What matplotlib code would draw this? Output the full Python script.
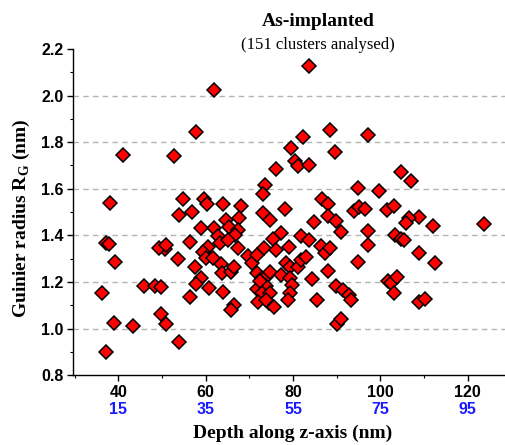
import matplotlib
matplotlib.use('Agg')
import numpy as np
from matplotlib import pyplot as plt
from matplotlib.ticker import MultipleLocator
import matplotlib.transforms as mtransforms

# depth (nm) and Guinier radius (nm)
depth = [83.7, 61.9, 57.9, 41.1, 52.7, 82.3, 88.4, 97.1, 79.5, 80.4,
         81.1, 83.7, 89.7, 76.2, 104.8, 107.0, 94.9, 99.6, 73.5, 73.1,
         38.1, 54.8, 59.6, 60.2, 56.8, 53.9, 64.0, 68.0, 67.6, 78.1,
         86.7, 87.9, 87.9, 89.9, 93.9, 95.2, 96.5, 101.5, 103.2, 108.9,
         106.6, 105.8, 112.0, 123.7, 97.1, 91.0, 84.8, 73.1, 74.8, 77.3,
         64.6, 65.4, 67.3, 66.7, 62.0, 62.8, 63.2, 65.1, 58.9, 60.6,
         59.4, 60.1, 61.7, 60.8, 56.5, 53.7, 50.7, 49.4, 51.0, 37.3,
         37.9, 39.3, 45.9, 48.4, 49.7, 36.2, 39.0, 43.4, 49.8, 51.0,
         53.9, 37.3, 57.5, 58.9, 57.9, 56.5, 63.6, 63.8, 64.0, 65.7,
         66.6, 66.6, 65.7, 67.4, 69.7, 70.5, 71.8, 73.4, 75.3, 76.1,
         71.7, 72.8, 73.9, 71.7, 73.9, 72.8, 74.8, 74.7, 72.0, 74.5,
         75.6, 73.9, 77.2, 78.3, 79.2, 79.1, 79.2, 79.8, 79.2, 78.9,
         81.1, 81.9, 82.9, 81.9, 83.7, 84.4, 85.5, 86.3, 87.2, 88.4,
         88.0, 89.9, 91.4, 92.8, 93.3, 90.1, 91.0, 94.9, 97.1, 103.4,
         104.6, 105.3, 108.9, 112.4, 101.7, 102.5, 103.8, 103.2, 108.9, 110.1,
         72.4]
rg = [2.125, 2.025, 1.843, 1.746, 1.739, 1.822, 1.852, 1.829, 1.774, 1.721,
      1.698, 1.704, 1.757, 1.684, 1.671, 1.634, 1.605, 1.591, 1.614, 1.578,
      1.539, 1.555, 1.557, 1.535, 1.502, 1.488, 1.534, 1.524, 1.474, 1.512,
      1.555, 1.535, 1.481, 1.462, 1.505, 1.521, 1.514, 1.509, 1.524, 1.478,
      1.474, 1.452, 1.442, 1.448, 1.419, 1.416, 1.456, 1.495, 1.466, 1.409,
      1.466, 1.436, 1.423, 1.402, 1.431, 1.399, 1.366, 1.378, 1.433, 1.352,
      1.330, 1.302, 1.302, 1.173, 1.373, 1.297, 1.340, 1.345, 1.360, 1.366,
      1.363, 1.284, 1.184, 1.184, 1.177, 1.154, 1.022, 1.012, 1.061, 1.018,
      0.943, 0.898, 1.266, 1.218, 1.191, 1.137, 1.276, 1.240, 1.158, 1.241,
      1.266, 1.101, 1.080, 1.345, 1.312, 1.280, 1.316, 1.345, 1.385, 1.335,
      1.237, 1.216, 1.223, 1.169, 1.183, 1.151, 1.151, 1.244, 1.115, 1.108,
      1.094, 1.122, 1.230, 1.280, 1.266, 1.352, 1.216, 1.187, 1.151, 1.122,
      1.266, 1.294, 1.309, 1.398, 1.380, 1.211, 1.122, 1.356, 1.323, 1.345,
      1.249, 1.184, 1.165, 1.144, 1.122, 1.019, 1.039, 1.287, 1.359, 1.402,
      1.383, 1.378, 1.326, 1.280, 1.204, 1.194, 1.223, 1.154, 1.115, 1.127,
      1.205]

xticks = [40, 60, 80, 100, 120]
xticks_shifted = ['15', '35', '55', '75', '95']

fig = plt.figure(figsize=(5.05, 4.45), dpi=100)
ax = fig.add_axes([0.145, 0.157, 0.855, 0.733])

ax.plot(depth, rg, linestyle='none', marker='D', markersize=7.2,
        markerfacecolor='#ff0000', markeredgecolor='black', markeredgewidth=1.1,
        zorder=3)

ax.set_xlim(29.7, 128.5)
ax.set_ylim(0.8, 2.2)
ax.set_xticks(xticks)
ax.xaxis.set_minor_locator(MultipleLocator(10))
ax.yaxis.set_major_locator(MultipleLocator(0.2))
ax.yaxis.set_minor_locator(MultipleLocator(0.1))
ax.yaxis.set_major_formatter(matplotlib.ticker.FormatStrFormatter('%.1f'))

for s in ['top', 'right']:
    ax.spines[s].set_visible(False)
for s in ['left', 'bottom']:
    ax.spines[s].set_linewidth(1.0)

ax.tick_params(which='major', direction='out', length=4, width=1)
ax.tick_params(which='minor', direction='out', length=2.5, width=0.8)
ax.tick_params(axis='both', labelsize=11.5, pad=3)
for lab in ax.get_xticklabels() + ax.get_yticklabels():
    lab.set_fontfamily('Liberation Sans')
    lab.set_fontweight('bold')

for yv in [1.0, 1.2, 1.4, 1.6, 1.8, 2.0]:
    ax.axhline(yv, color='#b4b4b4', linestyle=(0, (4, 3)), linewidth=1.0, zorder=1)

# second row of x labels (blue)
trans = mtransforms.blended_transform_factory(ax.transData, fig.transFigure)
for xv, lab in zip(xticks, xticks_shifted):
    fig.text(xv, 1 - 410 / 445, lab, transform=trans, ha='center', va='center',
             color='#1a1aff', fontsize=11.5, fontweight='bold', family='Liberation Sans')

fig.text(293 / 505, 1 - 433 / 445, 'Depth along z-axis (nm)', ha='center', va='center',
         fontsize=14, fontweight='bold', family='Liberation Serif')
fig.text(21 / 505, 1 - 218 / 445, 'Guinier radius R$_\\mathregular{G}$ (nm)', ha='center',
         va='center', rotation=90, fontsize=14, fontweight='bold', family='Liberation Serif')

fig.text(318 / 505, 1 - 22 / 445, 'As-implanted', ha='center', va='center',
         fontsize=14, fontweight='bold', family='Liberation Serif')
fig.text(318 / 505, 1 - 45 / 445, '(151 clusters analysed)', ha='center', va='center',
         fontsize=12, family='Liberation Serif')

fig.savefig('out.png', dpi=100)
